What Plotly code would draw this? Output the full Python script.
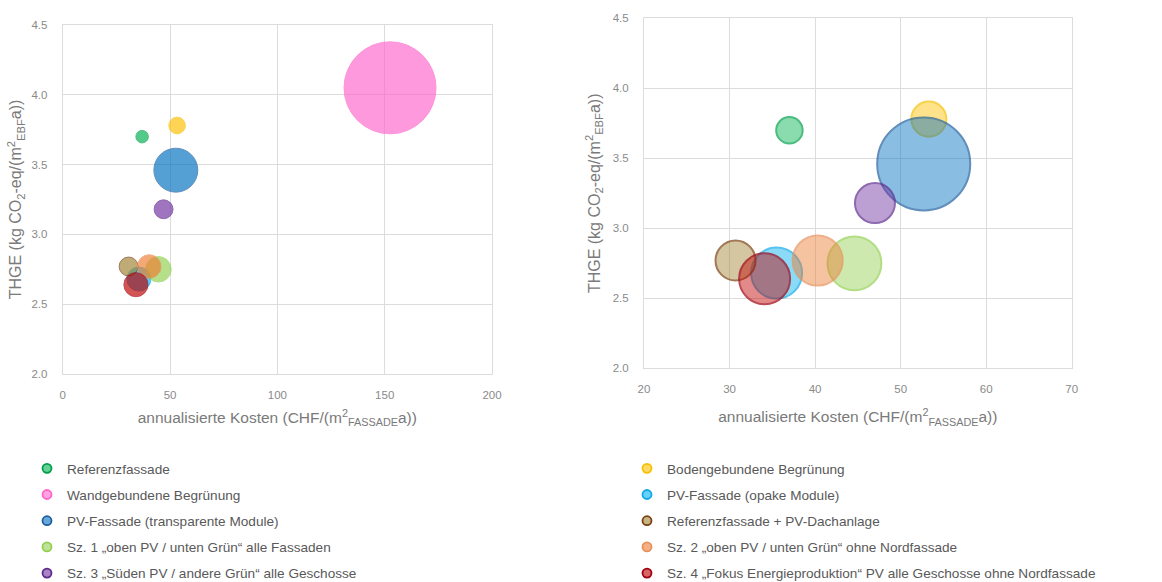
import plotly.graph_objects as go

# ---------------- data ----------------
series_names = [
    "Referenzfassade",
    "Bodengebundene Begrünung",
    "Wandgebundene Begrünung",
    "PV-Fassade (opake Module)",
    "PV-Fassade (transparente Module)",
    "Referenzfassade + PV-Dachanlage",
    "Sz. 1 „oben PV / unten Grün“ alle Fassaden",
    "Sz. 2 „oben PV / unten Grün“ ohne Nordfassade",
    "Sz. 3 „Süden PV / andere Grün“ alle Geschosse",
    "Sz. 4 „Fokus Energieproduktion“ PV alle Geschosse ohne Nordfassade",
]
kosten = [37.0, 53.3, 152.5, 35.5, 52.7, 30.7, 44.6, 40.3, 47.0, 34.1]   # CHF/(m2 Fassade a)
thge = [3.70, 3.78, 4.05, 2.68, 3.46, 2.77, 2.75, 2.77, 3.18, 2.64]      # kg CO2-eq/(m2 EBF a)
bubble = [7.0, 12.3, 380.0, 26.0, 86.5, 16.0, 29.0, 25.0, 16.0, 26.0]    # bubble size values

x_ticks_left = [0, 50, 100, 150, 200]
x_ticks_right = [20, 30, 40, 50, 60, 70]
y_ticks = [2.0, 2.5, 3.0, 3.5, 4.0, 4.5]

# ---------------- styles ----------------
line_cols = ["#00A04A", "#F5C000", "#FF66CC", "#10A8E8", "#1F5FA0",
             "#7B3F10", "#92D050", "#E8905A", "#5E2A8E", "#A00010"]
fill_rgb = [(0, 176, 80), (255, 192, 0), (255, 102, 204), (0, 176, 240), (0, 112, 192),
            (160, 130, 50), (146, 208, 80), (237, 125, 49), (112, 48, 160), (192, 0, 0)]


def rgba(c, a):
    return "rgba(%d,%d,%d,%.2f)" % (c[0], c[1], c[2], a)


fig = go.Figure()

# left chart (all series)
sref_left = 2.0 * max(bubble) / (92.0 ** 2)
for i, name in enumerate(series_names):
    fig.add_trace(go.Scatter(
        x=[kosten[i]], y=[thge[i]], mode="markers", name=name, showlegend=False,
        xaxis="x", yaxis="y",
        marker=dict(size=[bubble[i]], sizemode="area", sizeref=sref_left,
                    color=rgba(fill_rgb[i], 0.95),
                    line=dict(color=line_cols[i], width=1)),
    ))

# right chart (zoomed view)
right_sizes = [b for b, x in zip(bubble, kosten) if 20 <= x <= 70]
sref_right = 2.0 * max(right_sizes) / (93.0 ** 2)
for i, name in enumerate(series_names):
    fig.add_trace(go.Scatter(
        x=[kosten[i]], y=[thge[i]], mode="markers", name=name, showlegend=False,
        xaxis="x2", yaxis="y2",
        marker=dict(size=[bubble[i]], sizemode="area", sizeref=sref_right,
                    color=rgba(fill_rgb[i], 0.65),
                    line=dict(color=line_cols[i], width=2)),
    ))

# legend entries (two columns)
for i, name in enumerate(series_names):
    fig.add_trace(go.Scatter(
        x=[None], y=[None], mode="markers", name=name, showlegend=True,
        legend="legend" if i % 2 == 0 else "legend2", legendgroup=name,
        marker=dict(size=9, color=rgba(fill_rgb[i], 0.6),
                    line=dict(color=line_cols[i], width=1.8)),
    ))

FONT = "Liberation Sans, Arial, sans-serif"
tick_font = dict(family=FONT, size=11.5, color="#8a8a8a")
xtitle_font = dict(family=FONT, size=15.5, color="#7a7a7a")
ytitle_font = dict(family=FONT, size=16, color="#7a7a7a")
grid = "#dcdcdc"

x_title = "annualisierte Kosten (CHF/(m<sup>2</sup><sub>FASSADE</sub>a))"
y_title = "THGE (kg CO<sub>2</sub>-eq/(m<sup>2</sup><sub>EBF</sub>a))"

common_x = dict(showgrid=True, gridcolor=grid, gridwidth=1, zeroline=False,
                showline=True, linecolor=grid, mirror=True, ticks="outside",
                tickcolor="rgba(0,0,0,0)", tickfont=tick_font, automargin=False)
common_y = dict(showgrid=True, gridcolor=grid, gridwidth=1, zeroline=False,
                showline=True, linecolor=grid, mirror=True, ticks="outside",
                tickcolor="rgba(0,0,0,0)", tickfont=tick_font, automargin=False,
                tickvals=y_ticks, ticktext=["%.1f" % v for v in y_ticks], range=[2.0, 4.5])

W, H = 1162, 582
legend_font = dict(family=FONT, size=13.6, color="#595959")
fig.update_layout(
    width=W, height=H, margin=dict(l=0, r=0, t=0, b=0, autoexpand=False),
    paper_bgcolor="white", plot_bgcolor="white",
    showlegend=True,
    xaxis=dict(domain=[62.7 / W, 492.0 / W], range=[0, 200], tickvals=x_ticks_left,
               ticklen=10, title=dict(text=x_title, font=xtitle_font, standoff=12), anchor="y",
               **common_x),
    yaxis=dict(domain=[1 - 374.0 / H, 1 - 25.0 / H], anchor="x", ticklen=12,
               title=dict(text=y_title, font=ytitle_font, standoff=5), **common_y),
    xaxis2=dict(domain=[644.0 / W, 1071.7 / W], range=[20, 70], tickvals=x_ticks_right,
                ticklen=10, title=dict(text=x_title, font=xtitle_font, standoff=17), anchor="y2",
                **common_x),
    yaxis2=dict(domain=[1 - 368.3 / H, 1 - 18.3 / H], anchor="x2", ticklen=12,
                title=dict(text=y_title, font=ytitle_font, standoff=8), **common_y),
    legend=dict(x=27 / W, y=1 - 453.0 / H, xanchor="left", yanchor="top",
                orientation="v", traceorder="grouped", tracegroupgap=5.5,
                bgcolor="rgba(0,0,0,0)", itemclick=False, font=legend_font),
    legend2=dict(x=627 / W, y=1 - 453.0 / H, xanchor="left", yanchor="top",
                 orientation="v", traceorder="grouped", tracegroupgap=5.5,
                 bgcolor="rgba(0,0,0,0)", itemclick=False, font=legend_font),
)

fig.write_html("out.html", config={"displayModeBar": False},
               post_script="document.body.style.margin='0px';")
